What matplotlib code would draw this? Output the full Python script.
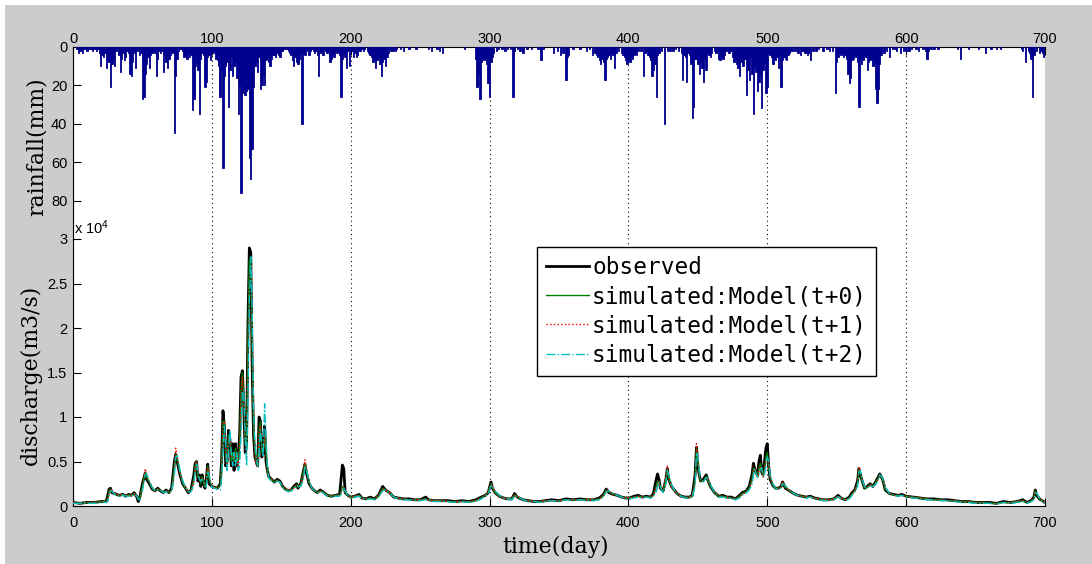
import matplotlib
matplotlib.use('Agg')
import matplotlib.pyplot as plt
from matplotlib.patches import Rectangle
from matplotlib.lines import Line2D
from matplotlib.font_manager import FontProperties

# ---------------- data ----------------
rain_days = [
    3, 4, 5, 6, 7, 8, 12, 13, 14, 15,
    16, 17, 18, 19, 20, 21, 22, 23, 24, 25,
    26, 27, 28, 29, 30, 31, 32, 33, 34, 35,
    36, 37, 38, 39, 40, 41, 42, 43, 44, 45,
    46, 47, 48, 50, 51, 52, 53, 55, 56, 58,
    59, 60, 61, 63, 64, 65, 66, 67, 68, 69,
    70, 73, 74, 75, 77, 78, 80, 81, 82, 83,
    84, 86, 87, 88, 89, 90, 91, 94, 95, 96,
    97, 98, 99, 100, 101, 102, 103, 104, 105, 106,
    107, 108, 109, 110, 111, 112, 113, 114, 115, 116,
    117, 118, 119, 120, 121, 122, 123, 124, 125, 126,
    127, 128, 129, 130, 131, 132, 133, 134, 135, 136,
    137, 138, 139, 140, 141, 142, 143, 144, 145, 146,
    147, 148, 149, 150, 152, 154, 158, 159, 160, 161,
    162, 163, 165, 166, 167, 168, 169, 170, 172, 173,
    174, 176, 177, 180, 184, 185, 186, 187, 188, 189,
    193, 195, 196, 197, 198, 199, 200, 201, 202, 203,
    204, 205, 206, 208, 215, 216, 217, 218, 219, 220,
    221, 222, 224, 225, 228, 230, 233, 236, 238, 242,
    247, 256, 258, 262, 264, 266, 282, 290, 291, 292,
    293, 294, 295, 296, 297, 298, 299, 300, 301, 302,
    303, 309, 311, 313, 317, 318, 320, 324, 327, 330,
    337, 339, 346, 349, 351, 353, 355, 356, 357, 374,
    376, 378, 379, 380, 381, 382, 383, 384, 385, 386,
    388, 390, 395, 397, 398, 399, 400, 401, 402, 403,
    404, 406, 411, 415, 416, 417, 418, 419, 420, 421,
    426, 428, 432, 436, 439, 440, 442, 443, 445, 446,
    447, 448, 450, 451, 452, 453, 454, 455, 456, 459,
    464, 466, 467, 468, 469, 470, 472, 474, 477, 478,
    479, 480, 481, 482, 483, 484, 485, 486, 487, 488,
    489, 490, 491, 492, 493, 494, 495, 496, 497, 498,
    499, 500, 501, 503, 504, 505, 506, 508, 509, 510,
    511, 512, 514, 515, 517, 525, 527, 529, 530, 531,
    537, 540, 543, 545, 549, 550, 551, 552, 554, 556,
    558, 559, 560, 561, 563, 564, 566, 567, 568, 569,
    571, 572, 573, 575, 576, 577, 578, 579, 580, 582,
    588, 590, 593, 596, 598, 600, 607, 609, 612, 614,
    615, 623, 639, 645, 657, 661, 665, 684, 686, 688,
    690, 691, 694, 696, 699, 9, 10, 11, 49, 54,
    57, 62, 71, 72, 76, 79, 85, 92, 93, 151,
    153, 155, 156, 157, 164, 171, 175, 178, 179, 181,
    182, 183, 190, 191, 192, 194, 207, 209, 210, 212,
    213, 214, 223, 226, 227, 229, 231, 232, 305, 306,
    315, 322, 335, 360, 365, 370, 372, 377, 387, 389,
    391, 393, 396, 405, 407, 409, 412, 413, 414, 422,
    424, 430, 434, 438, 441, 444, 449, 457, 458, 460,
    462, 463, 465, 471, 473, 475, 476, 502, 507, 513,
    516, 518, 520, 522, 524, 526, 528, 533, 535, 547,
    553, 555, 557, 562, 565, 570, 574, 581, 584, 586,
    592, 602, 604, 616, 618, 620, 637, 652, 668, 683,
    689, 692, 697, 698,
]
rain_mm = [
    1, 3, 2, 1, 3, 1, 1, 1, 2, 1,
    1, 2, 1, 3, 10, 4, 5, 3, 11, 6,
    8, 21, 9, 7, 10, 2, 1, 4, 13, 6,
    3, 7, 5, 2, 3, 14, 15, 8, 3, 11,
    2, 1, 4, 27, 26, 14, 9, 11, 4, 2,
    3, 15, 6, 3, 2, 13, 4, 8, 11, 6,
    4, 45, 15, 6, 1, 1, 5, 4, 6, 3,
    5, 33, 27, 10, 8, 12, 35, 4, 21, 18,
    5, 4, 7, 3, 2, 3, 6, 7, 10, 26,
    12, 63, 15, 10, 8, 31, 12, 5, 15, 10,
    8, 16, 35, 20, 76, 24, 22, 25, 23, 22,
    58, 69, 53, 21, 10, 8, 13, 5, 22, 20,
    15, 20, 7, 5, 8, 10, 6, 4, 4, 5,
    3, 4, 5, 2, 1, 1, 7, 10, 5, 8,
    9, 6, 40, 3, 4, 2, 1, 4, 1, 2,
    3, 4, 15, 4, 2, 8, 6, 4, 5, 2,
    26, 3, 5, 11, 2, 10, 1, 2, 5, 3,
    5, 4, 2, 1, 5, 8, 6, 11, 7, 5,
    9, 15, 6, 10, 1, 2, 1, 1, 2, 1,
    1, 1, 2, 1, 2, 3, 1, 6, 21, 14,
    27, 8, 6, 7, 5, 9, 19, 26, 8, 5,
    3, 1, 2, 1, 26, 2, 1, 3, 1, 1,
    7, 1, 3, 2, 4, 3, 17, 5, 4, 4,
    3, 5, 7, 9, 6, 8, 17, 6, 5, 4,
    3, 11, 3, 5, 7, 9, 6, 8, 5, 6,
    4, 4, 15, 5, 7, 15, 12, 9, 26, 4,
    40, 2, 2, 2, 17, 4, 18, 3, 9, 37,
    31, 6, 9, 14, 8, 11, 18, 6, 12, 5,
    2, 7, 5, 6, 4, 2, 3, 2, 7, 9,
    11, 15, 8, 10, 10, 6, 25, 12, 17, 5,
    14, 35, 10, 13, 23, 18, 14, 32, 12, 8,
    24, 21, 3, 5, 9, 6, 7, 11, 4, 21,
    7, 5, 7, 4, 2, 2, 3, 4, 3, 7,
    1, 2, 1, 2, 24, 8, 5, 3, 3, 4,
    14, 19, 16, 7, 4, 5, 31, 6, 9, 7,
    5, 12, 8, 6, 10, 8, 22, 29, 22, 4,
    5, 1, 2, 3, 2, 2, 1, 2, 1, 2,
    6, 1, 6, 1, 3, 1, 1, 2, 8, 2,
    6, 26, 2, 3, 5, 1, 2, 1, 3, 5,
    3, 2, 2, 3, 2, 2, 4, 6, 3, 2,
    1, 2, 3, 4, 3, 2, 2, 3, 2, 1,
    2, 3, 3, 2, 4, 6, 2, 2, 1, 2,
    3, 4, 8, 5, 3, 2, 1, 2, 2, 1,
    1, 2, 1, 1, 1, 2, 1, 4, 6, 4,
    3, 2, 4, 3, 2, 2, 3, 2, 4, 3,
    2, 2, 1, 3, 5, 4, 6, 3, 4, 3,
    2, 3, 6, 2, 3, 5, 8, 4, 5, 6,
    3, 2, 2, 3, 4, 2, 3, 2, 2, 2,
    4, 5, 6, 6, 8, 4, 7, 9, 3, 2,
    1, 2, 1, 2, 1, 1, 1, 1, 1, 1,
    3, 4, 2, 3,
]

# discharge, in units of 10^4 m3/s
q_days = [
    0, 5, 10, 15, 20, 24, 25, 26, 27, 28,
    30, 33, 36, 38, 40, 42, 44, 46, 47, 48,
    50, 52, 53, 55, 57, 59, 61, 63, 65, 67,
    69, 71, 73, 74, 75, 77, 79, 81, 83, 85,
    87, 88, 89, 90, 91, 92, 93, 94, 95, 96,
    97, 98, 100, 102, 104, 106, 107, 108, 109, 110,
    111, 112, 113, 114, 115, 116, 117, 118, 119, 120,
    121, 122, 123, 124, 125, 126, 127, 128, 129, 130,
    131, 132, 133, 134, 135, 136, 137, 138, 139, 140,
    141, 143, 145, 147, 149, 151, 153, 155, 157, 159,
    161, 162, 164, 166, 167, 168, 170, 172, 174, 176,
    178, 180, 183, 186, 189, 192, 193, 194, 195, 196,
    198, 200, 203, 206, 208, 211, 214, 217, 220, 223,
    225, 228, 231, 234, 238, 242, 246, 250, 254, 256,
    260, 265, 270, 275, 280, 285, 290, 294, 297, 299,
    301, 302, 304, 307, 310, 313, 316, 318, 320, 324,
    328, 332, 336, 340, 345, 350, 355, 360, 365, 370,
    375, 379, 382, 384, 386, 389, 392, 395, 398, 401,
    404, 407, 410, 413, 416, 418, 420, 421, 422, 423,
    425, 427, 428, 429, 431, 433, 435, 438, 441, 444,
    446, 448, 449, 450, 451, 452, 454, 456, 457, 459,
    462, 465, 468, 471, 474, 477, 480, 482, 485, 487,
    489, 490, 491, 492, 493, 494, 495, 496, 497, 498,
    499, 500, 501, 502, 504, 506, 508, 510, 511, 513,
    516, 519, 522, 525, 528, 531, 534, 537, 540, 544,
    548, 551, 553, 556, 559, 561, 563, 565, 566, 567,
    568, 570, 572, 574, 576, 578, 580, 581, 583, 585,
    588, 591, 594, 597, 600, 605, 610, 615, 620, 625,
    630, 635, 640, 645, 650, 655, 660, 665, 670, 675,
    680, 684, 687, 690, 692, 693, 694, 696, 698, 700,
]
q_obs = [
    .04, .03, .04, .04, .05, .05, .12, .19, .20, .15,
    .14, .12, .13, .11, .13, .12, .15, .10, .05, .09,
    .25, .37, .30, .25, .19, .17, .20, .17, .15, .18,
    .15, .20, .50, .58, .50, .35, .25, .20, .15, .18,
    .35, .48, .50, .28, .35, .22, .35, .25, .20, .30,
    .47, .25, .22, .21, .20, .25, .50, 1.07, .90, .45,
    .50, .85, .75, .45, .70, .40, .70, .45, .55, .80,
    1.45, 1.52, 1.10, .60, .70, 2.05, 2.90, 2.85, 1.60, .80,
    .55, .50, .45, 1.00, .95, .55, .60, .90, .50, .40,
    .33, .30, .27, .30, .28, .22, .19, .17, .18, .22,
    .25, .20, .25, .40, .47, .38, .25, .20, .17, .15,
    .18, .16, .12, .11, .12, .13, .30, .46, .42, .15,
    .12, .10, .11, .13, .09, .08, .10, .08, .12, .22,
    .18, .15, .10, .09, .08, .08, .07, .07, .10, .07,
    .06, .06, .06, .05, .06, .05, .07, .10, .12, .15,
    .27, .20, .15, .11, .09, .08, .08, .14, .10, .07,
    .06, .05, .05, .06, .07, .06, .08, .07, .08, .07,
    .07, .09, .13, .19, .15, .13, .12, .10, .09, .09,
    .11, .12, .10, .11, .10, .14, .30, .36, .30, .20,
    .17, .30, .42, .30, .22, .18, .14, .11, .10, .10,
    .12, .35, .66, .45, .35, .28, .30, .35, .30, .22,
    .15, .11, .12, .10, .10, .08, .12, .15, .17, .22,
    .35, .48, .42, .37, .35, .50, .57, .38, .35, .50,
    .65, .70, .45, .30, .23, .20, .20, .22, .27, .20,
    .17, .14, .12, .11, .10, .11, .09, .08, .07, .07,
    .08, .12, .09, .07, .10, .15, .18, .28, .42, .35,
    .30, .20, .22, .25, .22, .27, .33, .36, .30, .18,
    .14, .13, .12, .13, .11, .10, .09, .08, .08, .07,
    .07, .06, .05, .05, .04, .04, .04, .03, .05, .04,
    .05, .07, .04, .06, .10, .18, .12, .08, .06, .04,
]
q_sim0 = [
    .04, .03, .04, .04, .05, .05, .08, .17, .19, .16,
    .14, .12, .13, .12, .12, .12, .14, .11, .07, .08,
    .22, .38, .33, .26, .20, .17, .19, .18, .15, .17,
    .15, .18, .45, .58, .53, .37, .26, .20, .16, .17,
    .30, .45, .50, .32, .33, .25, .33, .27, .21, .27,
    .45, .30, .22, .21, .20, .23, .45, .95, .95, .55,
    .45, .80, .80, .50, .60, .50, .65, .50, .50, .70,
    1.30, 1.50, 1.20, .70, .65, 1.90, 2.75, 2.80, 1.80, .90,
    .60, .50, .45, .85, .95, .60, .60, .80, .60, .40,
    .32, .30, .27, .29, .27, .22, .19, .17, .18, .21,
    .24, .21, .24, .38, .48, .40, .26, .20, .17, .15,
    .17, .16, .12, .11, .12, .12, .16, .22, .20, .15,
    .12, .10, .11, .12, .09, .08, .09, .08, .11, .20,
    .18, .15, .10, .09, .08, .07, .07, .07, .08, .07,
    .06, .06, .05, .05, .05, .05, .06, .09, .12, .16,
    .25, .21, .15, .11, .09, .08, .08, .13, .10, .07,
    .06, .05, .05, .06, .06, .06, .07, .07, .07, .07,
    .07, .08, .12, .18, .16, .13, .12, .10, .09, .09,
    .10, .11, .10, .10, .10, .12, .22, .28, .27, .20,
    .16, .32, .42, .30, .22, .17, .14, .11, .10, .10,
    .11, .30, .65, .50, .35, .28, .28, .33, .30, .22,
    .15, .11, .11, .10, .09, .08, .11, .14, .16, .20,
    .30, .42, .42, .35, .33, .42, .48, .40, .33, .42,
    .55, .60, .45, .32, .23, .20, .20, .21, .26, .21,
    .17, .14, .12, .11, .10, .10, .09, .08, .07, .07,
    .08, .11, .09, .07, .09, .14, .17, .26, .42, .37,
    .30, .20, .21, .24, .22, .26, .32, .35, .30, .19,
    .14, .12, .12, .12, .11, .10, .09, .08, .07, .07,
    .06, .06, .05, .05, .04, .04, .03, .03, .04, .04,
    .05, .06, .04, .05, .09, .17, .13, .08, .06, .04,
]
q_sim1 = [
    .04, .03, .04, .04, .05, .05, .07, .15, .19, .17,
    .14, .12, .13, .12, .12, .12, .14, .11, .08, .08,
    .20, .42, .36, .27, .21, .17, .19, .18, .15, .17,
    .15, .17, .40, .65, .56, .38, .27, .21, .16, .17,
    .27, .42, .50, .35, .32, .27, .32, .28, .22, .25,
    .43, .33, .23, .21, .20, .22, .40, .90, .95, .60,
    .45, .75, .80, .55, .55, .55, .60, .55, .45, .65,
    1.20, 1.45, 1.20, .75, .55, 1.70, 2.45, 2.70, 2.00, 1.00,
    .60, .45, .45, .80, .90, .65, .55, .80, .65, .40,
    .32, .29, .26, .29, .27, .22, .19, .17, .18, .20,
    .24, .22, .23, .36, .52, .42, .27, .20, .17, .15,
    .17, .16, .12, .11, .12, .12, .14, .20, .21, .16,
    .12, .10, .11, .12, .09, .08, .09, .08, .11, .19,
    .18, .15, .10, .09, .08, .07, .07, .07, .08, .07,
    .06, .06, .05, .05, .05, .05, .06, .09, .12, .16,
    .24, .22, .16, .11, .09, .08, .08, .12, .11, .07,
    .06, .05, .05, .06, .06, .06, .07, .07, .07, .07,
    .07, .08, .11, .18, .17, .13, .12, .10, .09, .09,
    .10, .11, .10, .10, .10, .12, .20, .25, .27, .21,
    .16, .33, .45, .32, .22, .17, .14, .11, .10, .10,
    .11, .28, .70, .52, .36, .28, .28, .32, .31, .23,
    .15, .11, .11, .10, .09, .08, .10, .13, .16, .19,
    .28, .40, .42, .35, .32, .40, .45, .42, .32, .40,
    .50, .55, .47, .33, .24, .20, .20, .21, .28, .22,
    .17, .14, .12, .11, .10, .10, .09, .08, .07, .07,
    .08, .11, .09, .07, .09, .13, .17, .25, .44, .38,
    .31, .21, .21, .24, .22, .25, .31, .35, .31, .20,
    .14, .12, .12, .12, .11, .10, .09, .08, .07, .07,
    .06, .06, .05, .05, .04, .04, .03, .03, .04, .04,
    .05, .06, .04, .05, .08, .16, .14, .09, .06, .04,
]
q_sim2 = [
    .03, .03, .03, .03, .04, .04, .05, .12, .17, .17,
    .13, .11, .12, .11, .11, .11, .13, .11, .08, .07,
    .17, .35, .36, .28, .21, .17, .18, .18, .15, .16,
    .14, .16, .35, .55, .57, .40, .28, .21, .16, .16,
    .24, .38, .47, .38, .30, .28, .30, .28, .22, .22,
    .38, .35, .21, .20, .19, .18, .30, .60, .90, .70,
    .40, .60, .85, .60, .45, .60, .45, .60, .40, .45,
    .80, 1.30, 1.30, .80, .45, 1.20, 2.30, 2.80, 2.20, 1.10,
    .70, .55, .45, .60, .85, .70, .55, 1.15, .75, .45,
    .31, .28, .25, .28, .27, .21, .18, .16, .17, .19,
    .23, .22, .22, .30, .45, .42, .28, .20, .17, .15,
    .16, .15, .11, .10, .11, .11, .13, .18, .20, .17,
    .12, .09, .10, .11, .09, .07, .08, .07, .10, .17,
    .18, .15, .10, .08, .07, .07, .06, .06, .07, .07,
    .05, .05, .05, .04, .05, .04, .05, .08, .11, .14,
    .22, .23, .17, .12, .09, .08, .07, .11, .11, .07,
    .05, .05, .04, .05, .06, .05, .07, .06, .07, .06,
    .06, .07, .10, .16, .17, .14, .12, .10, .08, .08,
    .09, .10, .09, .10, .09, .11, .16, .22, .27, .22,
    .15, .25, .40, .35, .24, .18, .14, .11, .09, .09,
    .10, .22, .60, .55, .40, .30, .27, .32, .31, .24,
    .15, .10, .10, .09, .09, .07, .09, .12, .15, .18,
    .24, .35, .42, .36, .32, .35, .42, .43, .33, .36,
    .45, .55, .50, .35, .25, .20, .19, .20, .25, .23,
    .17, .14, .12, .10, .09, .10, .08, .07, .06, .06,
    .07, .10, .09, .06, .08, .12, .16, .22, .38, .40,
    .32, .22, .20, .23, .22, .24, .30, .35, .32, .21,
    .14, .12, .11, .12, .10, .09, .08, .07, .07, .06,
    .06, .05, .04, .04, .03, .03, .03, .02, .04, .03,
    .04, .05, .03, .05, .07, .14, .15, .09, .05, .03,
]

x_ticks = [0, 100, 200, 300, 400, 500, 600, 700]
rain_ticks = [0, 20, 40, 60, 80]
q_ticks = [0, 0.5, 1, 1.5, 2, 2.5, 3]
q_ticklabels = ['0', '0.5', '1', '1.5', '2', '2.5', '3']
series_labels = ['observed', 'simulated:Model(t+0)',
                 'simulated:Model(t+1)', 'simulated:Model(t+2)']

# ---------------- figure ----------------
plt.rcParams['mathtext.default'] = 'regular'
W, H = 1092, 564
fig = plt.figure(figsize=(W / 100, H / 100), dpi=100, facecolor='white')
fig.patches.append(Rectangle((5 / W, 0), 1 - 5 / W, 1 - 5 / H,
                             transform=fig.transFigure, facecolor='#cccccc',
                             edgecolor='none', zorder=-10))

L, R = 73 / W, 1045 / W
ax_r = fig.add_axes([L, 1 - 239 / H, R - L, (239 - 47) / H])
ax_q = fig.add_axes([L, 1 - 506 / H, R - L, (506 - 239) / H])

tick_family = 'Liberation Sans'
tick_size = 10.5
label_family = 'DejaVu Serif'
label_size = 15.8
grid_kw = dict(color='black', linestyle=(0, (1, 3)), linewidth=0.8)
rain_color = '#00008f'

# rainfall (inverted bars)
ax_r.bar(rain_days, rain_mm, width=1.0, color=rain_color,
         edgecolor=rain_color, linewidth=0.6, zorder=3)
ax_r.set_xlim(0, 700)
ax_r.set_ylim(100, 0)
ax_r.set_yticks(rain_ticks)
ax_r.set_xticks(x_ticks)
ax_r.xaxis.tick_top()
ax_r.tick_params(axis='both', direction='in', length=6, width=0.8,
                 labelsize=tick_size)
ax_r.tick_params(axis='x', top=True, bottom=False, labeltop=True,
                 labelbottom=False, pad=1)
ax_r.tick_params(axis='y', right=False, pad=4)
for lab in ax_r.get_xticklabels() + ax_r.get_yticklabels():
    lab.set_fontfamily(tick_family)
ax_r.spines['bottom'].set_visible(False)
ax_r.spines['right'].set_visible(False)
ax_r.grid(axis='x', **grid_kw)
ax_r.set_axisbelow(True)
ax_r.set_ylabel('rainfall(mm)', va='center', fontfamily=label_family,
                fontsize=label_size)
ax_r.yaxis.set_label_coords((37 - 73) / 972, (239 - 147) / 192)

# discharge
ax_q.plot(q_days, q_obs, color='black', linewidth=2.0, zorder=3)
ax_q.plot(q_days, q_sim0, color='#008000', linewidth=1.0, zorder=4)
ax_q.plot(q_days, q_sim1, color='#ff0000', linestyle=':', linewidth=1.0, zorder=5)
ax_q.plot(q_days, q_sim2, color='#00bfbf', linestyle='-.', linewidth=1.0, zorder=6)
ax_q.set_xlim(0, 700)
ax_q.set_ylim(0, 3)
ax_q.set_xticks(x_ticks)
ax_q.set_yticks(q_ticks)
ax_q.set_yticklabels(q_ticklabels)
ax_q.tick_params(axis='both', direction='in', length=6, width=0.8,
                 labelsize=tick_size)
ax_q.tick_params(axis='y', right=False, pad=4)
ax_q.tick_params(axis='x', top=False, pad=7)
for lab in ax_q.get_xticklabels() + ax_q.get_yticklabels():
    lab.set_fontfamily(tick_family)
ax_q.spines['top'].set_visible(False)
ax_q.spines['right'].set_visible(False)
ax_q.grid(axis='x', **grid_kw)
ax_q.set_axisbelow(True)
ax_q.set_ylabel('discharge(m3/s)', va='center', fontfamily=label_family,
                fontsize=label_size)
ax_q.yaxis.set_label_coords((31 - 73) / 972, (506 - 375) / 267)
ax_q.set_xlabel('time(day)', va='center', fontfamily=label_family,
                fontsize=label_size)
ax_q.xaxis.set_label_coords((556 - 73) / 972, -(547 - 506) / 267)

fig.text(74 / W, 1 - 228 / H, r'x 10$^{4}$', fontsize=10.5,
         fontfamily=tick_family, ha='left', va='center')

handles = [
    Line2D([], [], color='black', linewidth=2.0),
    Line2D([], [], color='#008000', linewidth=1.0),
    Line2D([], [], color='#ff0000', linestyle=':', linewidth=1.0),
    Line2D([], [], color='#00bfbf', linestyle='-.', linewidth=1.0),
]
leg = ax_q.legend(handles, series_labels, loc='upper left',
                  bbox_to_anchor=(537 / W, 1 - 247 / H),
                  bbox_transform=fig.transFigure,
                  prop=FontProperties(family='DejaVu Sans Mono', size=16.4),
                  frameon=True, fancybox=False, framealpha=1,
                  edgecolor='black', borderpad=0.4, labelspacing=0.27,
                  handlelength=1.9, handletextpad=0.12, borderaxespad=0)
leg.get_frame().set_linewidth(1.0)
leg.set_zorder(10)

fig.savefig('out.png', dpi=100, facecolor=fig.get_facecolor())
